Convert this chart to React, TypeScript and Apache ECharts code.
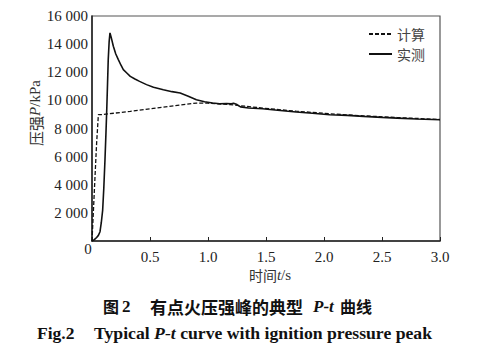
import React, { useEffect, useRef } from "react";
import * as echarts from "echarts";

const xTicks = [0, 0.5, 1.0, 1.5, 2.0, 2.5, 3.0];
const yTicks = [0, 2000, 4000, 6000, 8000, 10000, 12000, 14000, 16000];

const calcT = [0, 0.006, 0.026, 0.04, 0.055, 0.1, 0.33, 0.6, 0.9, 1.0, 1.19, 1.47, 1.76, 2.05, 2.34, 2.63, 3.0];
const calcP = [0, 0, 4580, 6980, 8980, 9000, 9220, 9500, 9810, 9800, 9700, 9450, 9230, 9050, 8900, 8780, 8640];

const measT = [0, 0.02, 0.04, 0.055, 0.069, 0.08, 0.092, 0.102, 0.112, 0.12, 0.127, 0.134, 0.14, 0.148, 0.155, 0.165, 0.184, 0.205, 0.227, 0.25, 0.27, 0.3, 0.33, 0.37, 0.41, 0.47, 0.53, 0.615, 0.69, 0.76, 0.83, 0.9, 0.97, 1.04, 1.1, 1.16, 1.2, 1.22, 1.25, 1.28, 1.35, 1.47, 1.6, 1.76, 1.9, 2.05, 2.2, 2.34, 2.5, 2.63, 2.8, 3.0];
const measP = [0, 100, 250, 400, 660, 1300, 2200, 3800, 5800, 7600, 9300, 11200, 12900, 14200, 14800, 14500, 13850, 13300, 12900, 12500, 12190, 11950, 11710, 11520, 11350, 11120, 10930, 10760, 10620, 10520, 10300, 10050, 9900, 9810, 9760, 9780, 9760, 9790, 9700, 9540, 9460, 9400, 9300, 9170, 9080, 8980, 8930, 8860, 8790, 8740, 8680, 8620];

const serif = "'Liberation Serif', 'Times New Roman', serif";
const cjk = "'Noto Sans CJK SC', sans-serif";

function fmtThousands(v: number): string {
  if (v === 0) return "";
  const s = String(v);
  if (s.length <= 3) return s;
  return s.slice(0, s.length - 3) + " " + s.slice(s.length - 3);
}

export default function App() {
  const ref = useRef<HTMLDivElement>(null);
  useEffect(() => {
    if (!ref.current) return;
    const chart = echarts.init(ref.current, null, { renderer: "svg" });
    const calcData = calcT.map((t, i) => [t, calcP[i]]);
    const measData = measT.map((t, i) => [t, measP[i]]);
    const rt = (x: number, y: number, text: string, rich: any, extra: any = {}) => ({
      type: "text",
      x,
      y,
      ...extra,
      style: { text, rich, verticalAlign: "middle", align: extra.align || "left" },
    });
    chart.setOption({
      animation: false,
      backgroundColor: "#ffffff",
      grid: {
        left: 92,
        top: 16,
        width: 348,
        height: 225,
        show: true,
        borderColor: "#555",
        borderWidth: 1.2,
        backgroundColor: "transparent",
      },
      legend: {
        orient: "vertical",
        left: 368,
        top: 27,
        itemWidth: 23,
        itemHeight: 13,
        itemGap: 6,
        padding: 0,
        selectedMode: false,
        itemStyle: { opacity: 0 },
        textStyle: { fontFamily: cjk, fontSize: 14, color: "#444", lineHeight: 13 },
        data: ["计算", "实测"],
      },
      xAxis: {
        type: "value",
        min: 0,
        max: 3,
        interval: 0.5,
        axisLine: { show: true, lineStyle: { color: "#222", width: 1.5 } },
        axisTick: { show: true, inside: true, length: 4, lineStyle: { color: "#222" } },
        splitLine: { show: false },
        axisLabel: {
          margin: 8,
          fontFamily: serif,
          fontSize: 15,
          color: "#222",
          formatter: (v: number) => (v === 0 ? "" : v.toFixed(1)),
        },
      },
      yAxis: {
        type: "value",
        min: 0,
        max: 16000,
        interval: 2000,
        axisLine: { show: true, lineStyle: { color: "#222", width: 1.5 } },
        axisTick: { show: false },
        splitLine: { show: false },
        axisLabel: {
          margin: 4,
          fontFamily: serif,
          fontSize: 15,
          color: "#222",
          formatter: (v: number) => fmtThousands(v),
        },
      },
      series: [
        {
          name: "计算",
          type: "line",
          data: calcData,
          symbol: "none",
          color: "#111",
          lineStyle: { color: "#111", width: 1.3, type: [4, 2] },
          z: 3,
        },
        {
          name: "实测",
          type: "line",
          data: measData,
          symbol: "none",
          color: "#111",
          lineStyle: { color: "#111", width: 1.6, type: "solid" },
          z: 2,
        },
      ],
      graphic: [
        rt(88, 249, "{r|0}", { r: { fontFamily: serif, fontSize: 15, fill: "#222" } }, { align: "center" }),
        {
          type: "text",
          x: 35,
          y: 113,
          rotation: Math.PI / 2,
          style: {
            text: "{c|压强}{i|P}{r|/kPa}",
            align: "center",
            verticalAlign: "middle",
            rich: {
              c: { fontFamily: cjk, fontSize: 15, fill: "#333" },
              i: { fontFamily: serif, fontStyle: "italic", fontSize: 15, fill: "#333" },
              r: { fontFamily: serif, fontSize: 15, fill: "#333" },
            },
          },
        },
        rt(270, 275, "{c|时间}{i|t}{r|/s}", {
          c: { fontFamily: cjk, fontSize: 14, fill: "#333" },
          i: { fontFamily: serif, fontStyle: "italic", fontSize: 15, fill: "#333" },
          r: { fontFamily: serif, fontSize: 15, fill: "#333" },
        }, { align: "center" }),
        rt(103, 306, "{c|图}", { c: { fontFamily: cjk, fontSize: 16, fontWeight: "bold", fill: "#111" } }),
        rt(122, 306, "{n|2}", { n: { fontFamily: serif, fontSize: 17, fontWeight: "bold", fill: "#111" } }),
        rt(150, 306, "{c|有点火压强峰的典型}", { c: { fontFamily: cjk, fontSize: 17, fontWeight: "bold", fill: "#111" } }),
        rt(313, 306, "{i|P-t}", { i: { fontFamily: serif, fontSize: 17, fontWeight: "bold", fontStyle: "italic", fill: "#111" } }),
        rt(340, 306, "{c|曲线}", { c: { fontFamily: cjk, fontSize: 16, fontWeight: "bold", fill: "#111" } }),
        rt(37, 333, "{r|Fig.2}", { r: { fontFamily: serif, fontSize: 17.5, fontWeight: "bold", fill: "#111" } }),
        rt(94, 333, "{r|Typical }{i|P-t}{r| curve with ignition pressure peak}", {
          r: { fontFamily: serif, fontSize: 17.7, fontWeight: "bold", fill: "#111" },
          i: { fontFamily: serif, fontSize: 17.7, fontWeight: "bold", fontStyle: "italic", fill: "#111" },
        }),
      ],
    });
    return () => chart.dispose();
  }, []);
  return <div ref={ref} style={{ width: 489, height: 358, position: "absolute", left: 0, top: 0 }} />;
}
